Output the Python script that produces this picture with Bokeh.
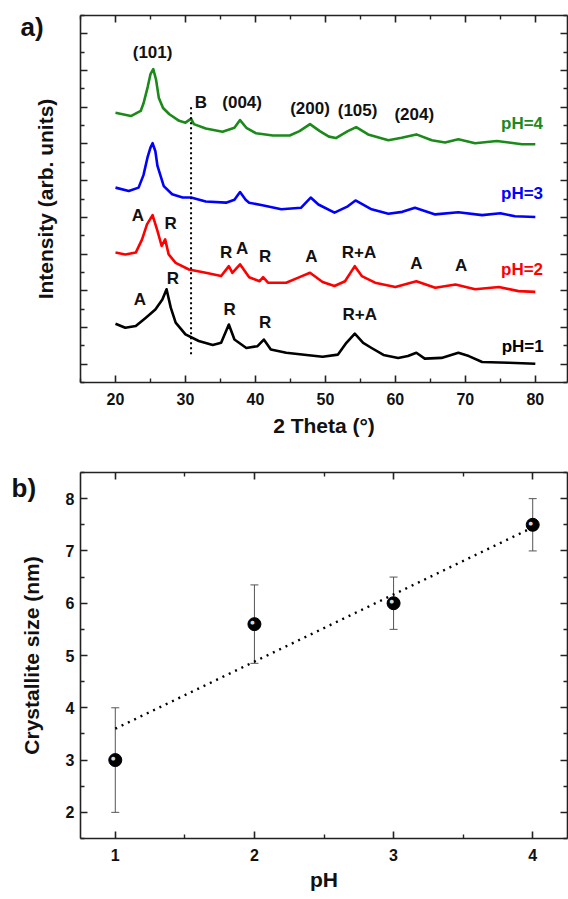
from bokeh.plotting import figure
from bokeh.models import (LinearAxis, FixedTicker, Range1d, ColumnDataSource,
                          Whisker, TeeHead, Title)
from bokeh.layouts import column
from bokeh.embed import file_html
from bokeh.resources import INLINE
from bokeh.core.properties import value

FONT = "Liberation Sans"
INK = "#111111"

# ---------------- panel a: XRD patterns (offset, arb. units) ----------------
tt_ph4 = [20, 22.2, 23.6, 24.0, 24.6, 25.0, 25.4, 25.8, 26.2, 26.8, 27.7, 29.1, 30.0, 30.8,
          31.2, 32.9, 35.3, 37.0, 37.8, 38.7, 40.1, 42.5, 44.9, 46.3, 47.8, 49.2, 50.5,
          51.5, 53.2, 54.4, 56.1, 59.0, 60.9, 63.0, 65.2, 67.1, 69.0, 71.4, 74.5, 76.2,
          78.1, 80.0]
int_ph4 = [6.85, 6.76, 6.90, 7.10, 7.55, 7.90, 8.04, 7.75, 7.25, 6.98, 6.81, 6.63, 6.58, 6.69,
           6.54, 6.42, 6.33, 6.44, 6.65, 6.44, 6.29, 6.23, 6.23, 6.35, 6.54, 6.35, 6.20,
           6.16, 6.35, 6.46, 6.26, 6.10, 6.17, 6.26, 6.10, 6.04, 6.13, 6.02, 6.08, 6.04,
           5.99, 5.99]

tt_ph3 = [20, 21.9, 23.3, 24.0, 24.6, 25.0, 25.3, 25.7, 26.0, 26.9, 28.1, 29.6, 30.8, 32.9,
          35.8, 37.0, 37.8, 38.6, 39.1, 41.0, 43.7, 46.5, 47.9, 49.0, 51.3, 53.2, 54.3,
          56.6, 59.0, 61.0, 62.8, 65.7, 69.0, 72.4, 75.0, 77.1, 80.0]
int_ph3 = [4.81, 4.72, 4.81, 5.15, 5.65, 5.90, 6.02, 5.80, 5.40, 4.85, 4.63, 4.54, 4.54, 4.43,
           4.40, 4.48, 4.69, 4.48, 4.40, 4.33, 4.22, 4.26, 4.54, 4.35, 4.13, 4.30, 4.46,
           4.22, 4.10, 4.15, 4.26, 4.08, 4.14, 4.06, 4.11, 4.03, 4.01]

tt_ph2 = [20, 21.4, 22.9, 23.8, 24.5, 25.3, 26.0, 26.6, 27.1, 27.6, 28.6, 30.5, 32.9, 35.1,
          36.2, 36.7, 37.8, 39.1, 40.6, 41.1, 41.8, 44.4, 46.3, 47.8, 49.6, 51.3, 52.8,
          54.2, 55.2, 57.1, 60.0, 63.0, 65.7, 68.6, 71.4, 74.8, 77.6, 80.0]
int_ph2 = [3.04, 2.99, 3.04, 3.40, 3.81, 4.06, 3.63, 3.22, 3.40, 2.99, 2.76, 2.58, 2.49, 2.40,
           2.67, 2.49, 2.72, 2.37, 2.26, 2.37, 2.22, 2.22, 2.37, 2.49, 2.24, 2.13, 2.26,
           2.67, 2.40, 2.22, 2.10, 2.26, 2.08, 2.17, 2.04, 2.10, 1.99, 1.97]

tt_ph1 = [20, 21.4, 22.9, 24.3, 25.7, 26.7, 27.3, 27.9, 28.6, 30.0, 31.9, 33.9, 35.1, 36.2,
          37.0, 38.7, 40.3, 41.2, 42.2, 44.4, 47.3, 49.6, 51.8, 53.0, 54.2, 55.4, 56.6,
          58.3, 60.4, 61.8, 63.0, 64.2, 66.6, 69.0, 70.5, 72.4, 76.2, 80.0]
int_ph1 = [1.10, 0.99, 1.04, 1.26, 1.49, 1.76, 2.04, 1.54, 1.13, 0.81, 0.63, 0.52, 0.58, 1.08,
           0.67, 0.44, 0.49, 0.67, 0.40, 0.31, 0.25, 0.20, 0.26, 0.58, 0.83, 0.58, 0.44,
           0.25, 0.17, 0.22, 0.31, 0.15, 0.17, 0.31, 0.22, 0.06, 0.04, 0.01]

series_colors = ["#1b8a1b", "#0000ff", "#ff0000", "#000000"]

# brookite reference line
b_line_x = [30.8, 30.8]
b_line_y = [0.27, 7.04]

ann_text = ["(101)", "B", "(004)", "(200)", "(105)", "(204)",
            "pH=4", "pH=3", "pH=2", "pH=1",
            "A", "R", "R", "A", "R", "A", "R+A", "A", "A",
            "A", "R", "R", "R", "R+A"]
ann_x = [25.3, 32.2, 38.1, 47.8, 54.6, 62.7,
         78.1, 78.1, 78.1, 78.2,
         23.2, 27.9, 35.8, 38.1, 41.4, 48.0, 54.8, 63.0, 69.4,
         23.5, 28.2, 36.3, 41.4, 54.9]
ann_y = [8.48, 7.12, 7.13, 6.97, 6.90, 6.79,
         6.56, 4.65, 2.58, 0.49,
         4.06, 3.83, 3.05, 3.14, 2.93, 2.92, 3.05, 2.73, 2.70,
         1.76, 2.33, 1.49, 1.13, 1.36]
ann_color = [INK] * 6 + series_colors + [INK] * 14

xa_ticks = [20, 30, 40, 50, 60, 70, 80]
xa_minor = [15, 25, 35, 45, 55, 65, 75, 85]
ya_ticks = [0, 1, 2, 3, 4, 5, 6, 7, 8, 9]
ya_minor = [-0.5, 0.5, 1.5, 2.5, 3.5, 4.5, 5.5, 6.5, 7.5, 8.5, 9.5]

# ---------------- panel b: crystallite size ----------------
ph = [1, 2, 3, 4]
size_nm = [3.0, 5.6, 6.0, 7.5]
size_lo = [2.0, 4.85, 5.5, 7.0]
size_hi = [4.0, 6.35, 6.5, 8.0]
fit_x = [1, 4]
fit_y = [3.6, 7.45]

xb_ticks = [1, 2, 3, 4]
xb_minor = [0.5, 1.5, 2.5, 3.5, 4.5]
yb_ticks = [2, 3, 4, 5, 6, 7, 8]
yb_minor = [1.5, 2.5, 3.5, 4.5, 5.5, 6.5, 7.5, 8.5]


def style_axis(ax, ticks, minor, labels=True, label_size="16px"):
    ax.ticker = FixedTicker(ticks=ticks, minor_ticks=minor)
    ax.axis_line_color = "#222222"
    ax.axis_line_width = 1.6
    ax.major_tick_line_color = "#222222"
    ax.major_tick_line_width = 1.6
    ax.minor_tick_line_color = "#222222"
    ax.minor_tick_line_width = 1.4
    ax.major_tick_in = 7
    ax.major_tick_out = 0
    ax.minor_tick_in = 4
    ax.minor_tick_out = 0
    ax.major_label_text_font = FONT
    ax.major_label_text_font_style = "bold"
    ax.major_label_text_color = INK
    if labels:
        ax.major_label_text_font_size = label_size
    else:
        ax.major_label_text_font_size = "0px"
        ax.major_label_text_color = None
        ax.major_label_standoff = 0
    ax.axis_label_text_font = FONT
    ax.axis_label_text_font_style = "bold"
    ax.axis_label_text_font_size = "21px"
    ax.axis_label_text_color = INK


def panel_tag(text, offset, standoff):
    return Title(text=text, align="left", offset=offset, standoff=standoff,
                 text_font=FONT, text_font_style="bold", text_font_size="26px",
                 text_color=INK)


# ---- figure a ----
pa = figure(width=568, height=440, output_backend="svg", toolbar_location=None,
            x_range=Range1d(15, 84.6), y_range=Range1d(-0.5, 9.5),
            min_border_left=80, min_border_right=1, min_border_top=15, min_border_bottom=58,
            x_axis_label="2 Theta (\u00b0)", y_axis_label="Intensity (arb. units)")
pa.grid.visible = False
pa.outline_line_color = None

style_axis(pa.xaxis[0], xa_ticks, xa_minor, labels=True, label_size="16px")
pa.xaxis[0].major_label_standoff = 10
pa.xaxis[0].axis_label_standoff = 6
style_axis(pa.yaxis[0], ya_ticks, ya_minor, labels=False)
pa.yaxis[0].axis_label_standoff = 24

top_a = LinearAxis()
style_axis(top_a, xa_ticks, xa_minor, labels=False)
pa.add_layout(top_a, "above")
right_a = LinearAxis()
style_axis(right_a, ya_ticks, ya_minor, labels=False)
pa.add_layout(right_a, "right")
pa.add_layout(panel_tag("a)", -60, -52), "above")

for xs, ys, c in zip([tt_ph4, tt_ph3, tt_ph2, tt_ph1],
                     [int_ph4, int_ph3, int_ph2, int_ph1], series_colors):
    pa.line(xs, ys, line_color=c, line_width=2.6, line_join="round")

pa.line(b_line_x, b_line_y, line_color="#000000", line_width=2, line_dash="2 3")

ann_src = ColumnDataSource(dict(x=ann_x, y=ann_y, t=ann_text, c=ann_color))
pa.text(x="x", y="y", text="t", text_color="c", source=ann_src,
        text_font=value(FONT), text_font_style="bold", text_font_size="17px",
        text_align="center", text_baseline="middle")

# ---- figure b ----
pb = figure(width=568, height=459, output_backend="svg", toolbar_location=None,
            x_range=Range1d(0.75, 4.25), y_range=Range1d(1.5, 8.5),
            min_border_left=75, min_border_right=1, min_border_top=32, min_border_bottom=61,
            x_axis_label="pH", y_axis_label="Crystallite size (nm)")
pb.grid.visible = False
pb.outline_line_color = None

style_axis(pb.xaxis[0], xb_ticks, xb_minor, labels=True, label_size="16px")
pb.xaxis[0].major_label_standoff = 10
pb.xaxis[0].axis_label_standoff = 4
style_axis(pb.yaxis[0], yb_ticks, yb_minor, labels=True, label_size="16px")
pb.yaxis[0].major_label_standoff = 6
pb.yaxis[0].axis_label_standoff = 20

top_b = LinearAxis()
style_axis(top_b, xb_ticks, xb_minor, labels=False)
pb.add_layout(top_b, "above")
right_b = LinearAxis()
style_axis(right_b, yb_ticks, yb_minor, labels=False)
pb.add_layout(right_b, "right")
pb.add_layout(panel_tag("b)", -69, -60), "above")

pb.line(fit_x, fit_y, line_color="#000000", line_width=2.4, line_dash="2 5")

err_src = ColumnDataSource(dict(x=ph, lower=size_lo, upper=size_hi))
pb.add_layout(Whisker(base="x", lower="lower", upper="upper", source=err_src,
                      line_color="#555555", line_width=1,
                      upper_head=TeeHead(size=8, line_color="#555555", line_width=1),
                      lower_head=TeeHead(size=8, line_color="#555555", line_width=1)))

pb.scatter(ph, size_nm, size=13, marker="circle", fill_color="#000000", line_color="#000000")
pb.text(x=ph, y=size_nm, text=["\u25cf"] * len(ph), x_offset=-2, y_offset=-2,
        text_color="#d8d8d8", text_font=value("DejaVu Sans"), text_font_size="5px",
        text_align="center", text_baseline="middle")

layout = column(pa, pb)
open("out.html", "w").write(file_html(layout, INLINE))
